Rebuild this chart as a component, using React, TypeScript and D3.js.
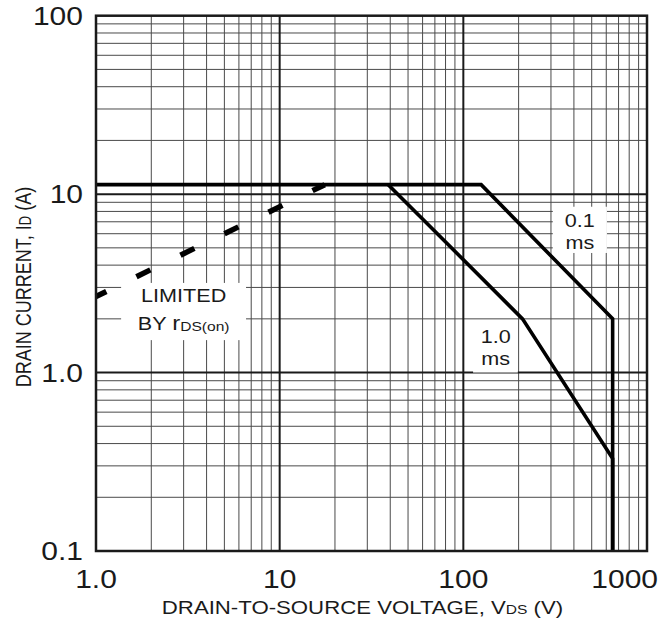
import * as d3 from "d3";

// ── data ──
const X_TICKS = [1, 10, 100, 1000];
const X_TICK_LABELS = ["1.0", "10", "100", "1000"];
const Y_TICKS = [0.1, 1, 10, 100];
const Y_TICK_LABELS = ["0.1", "1.0", "10", "100"];

// 0.1 ms boundary
const PULSE_01_V = [1, 125, 650, 650];
const PULSE_01_I = [11.3, 11.3, 2, 0.1];
// 1.0 ms boundary
const PULSE_1_V = [39, 210, 650, 650];
const PULSE_1_I = [11.3, 2, 0.33, 0.1];
// limited by rDS(on)
const RDS_V = [1, 17.6];
const RDS_I = [2.67, 11.3];

const W = 662, H = 623;
const PLOT = { left: 96, right: 647, top: 15.7, bottom: 551 };
const SX = 1.2; // text in the source image is stretched sideways
const FONT = "'Liberation Sans', Arial, Helvetica, sans-serif";
const INK = "#1a1a1a";

const x = d3.scaleLog().domain([1, 1000]).range([PLOT.left, PLOT.right]);
const y = d3.scaleLog().domain([0.1, 100]).range([PLOT.bottom, PLOT.top]);

const zip = (vs: number[], is: number[]) => vs.map((v, k) => [v, is[k]] as [number, number]);
const line = d3.line<[number, number]>().x(d => x(d[0])).y(d => y(d[1]));

const minor = (decades: number[]) =>
  decades.flatMap(d => d3.range(2, 10).map(k => k * d));
const X_MINOR = minor([1, 10, 100]);
const Y_MINOR = minor([0.1, 1, 10]);
const X_MAJOR = X_TICKS.slice(1, -1);
const Y_MAJOR = Y_TICKS.slice(1, -1);

// stretched text helper
function T({ x: tx, y: ty, size, anchor = "middle", children }: any) {
  return (
    <text transform={`translate(${tx},${ty}) scale(${SX},1)`} fontSize={size}
      textAnchor={anchor} fill={INK} fontFamily={FONT}>{children}</text>
  );
}

// annotation boxes (white patches over the grid), anchored in data units
const BOXES = [
  { v0: 1.37, v1: 6.56, i0: 1.52, i1: 3.18 },  // LIMITED BY rDS(on)
  { v0: 307, v1: 605, i0: 4.68, i1: 8.5 },     // 0.1 ms
  { v0: 113, v1: 198, i0: 1.0, i1: 1.8 },      // 1.0 ms
];

export default function App() {
  return (
    <svg width={W} height={H} style={{ position: "absolute", left: 0, top: 0, background: "#fff" }}>
      <rect width={W} height={H} fill="#fff" />

      {/* minor grid */}
      {X_MINOR.map(v => (
        <line key={"xm" + v} x1={x(v)} x2={x(v)} y1={PLOT.top} y2={PLOT.bottom}
          stroke="#4a4a4a" strokeWidth={1} />
      ))}
      {Y_MINOR.map(v => (
        <line key={"ym" + v} x1={PLOT.left} x2={PLOT.right} y1={y(v)} y2={y(v)}
          stroke="#4a4a4a" strokeWidth={1} />
      ))}
      {/* decade grid */}
      {X_MAJOR.map(v => (
        <line key={"xM" + v} x1={x(v)} x2={x(v)} y1={PLOT.top} y2={PLOT.bottom}
          stroke={INK} strokeWidth={2} />
      ))}
      {Y_MAJOR.map(v => (
        <line key={"yM" + v} x1={PLOT.left} x2={PLOT.right} y1={y(v)} y2={y(v)}
          stroke={INK} strokeWidth={2} />
      ))}

      {BOXES.map((b, k) => (
        <rect key={"b" + k} x={x(b.v0)} y={y(b.i1)} width={x(b.v1) - x(b.v0)}
          height={y(b.i0) - y(b.i1)} fill="#fff" />
      ))}

      {/* SOA boundaries */}
      <path d={line(zip(PULSE_01_V, PULSE_01_I)) ?? ""} fill="none" stroke="#000"
        strokeWidth={3.6} strokeLinejoin="miter" />
      <path d={line(zip(PULSE_1_V, PULSE_1_I)) ?? ""} fill="none" stroke="#000"
        strokeWidth={3.6} strokeLinejoin="miter" />
      <path d={line(zip(RDS_V, RDS_I)) ?? ""} fill="none" stroke="#000"
        strokeWidth={5.5} strokeDasharray="15.5 33.5" strokeDashoffset={4} />

      {/* frame */}
      <rect x={PLOT.left} y={PLOT.top} width={PLOT.right - PLOT.left}
        height={PLOT.bottom - PLOT.top} fill="none" stroke={INK} strokeWidth={2.5} />

      {/* annotations */}
      <T x={x(3)} y={y(2.49)} size={18}>LIMITED</T>
      <T x={x(3)} y={y(1.73)} size={18}>
        BY <tspan fontSize={20}>r</tspan><tspan fontSize={13} dy={1}>DS(on)</tspan>
      </T>
      <T x={x(431)} y={y(6.55)} size={18}>0.1</T>
      <T x={x(431)} y={y(4.93)} size={18}>ms</T>
      <T x={x(150)} y={y(1.466)} size={18}>1.0</T>
      <T x={x(150)} y={y(1.1)} size={18}>ms</T>

      {/* tick labels */}
      {X_TICKS.map((v, k) => (
        <T key={"xt" + v} x={k === X_TICKS.length - 1 ? W - 4 : x(v)} y={588} size={25}
          anchor={k === X_TICKS.length - 1 ? "end" : "middle"}>{X_TICK_LABELS[k]}</T>
      ))}
      {Y_TICKS.map((v, k) => (
        <T key={"yt" + v} x={83} y={y(v) + 9} size={25} anchor="end">{Y_TICK_LABELS[k]}</T>
      ))}

      {/* axis titles */}
      <T x={(PLOT.left + PLOT.right) / 2 - 9} y={614} size={18.5}>
        DRAIN-TO-SOURCE VOLTAGE, V<tspan fontSize={13}>DS</tspan> (V)
      </T>
      <text transform={`translate(31,287) rotate(-90) scale(1,${SX})`} fontSize={18}
        textAnchor="middle" fill={INK} fontFamily={FONT}>
        DRAIN CURRENT, I<tspan fontSize={13}>D</tspan> (A)
      </text>
    </svg>
  );
}
